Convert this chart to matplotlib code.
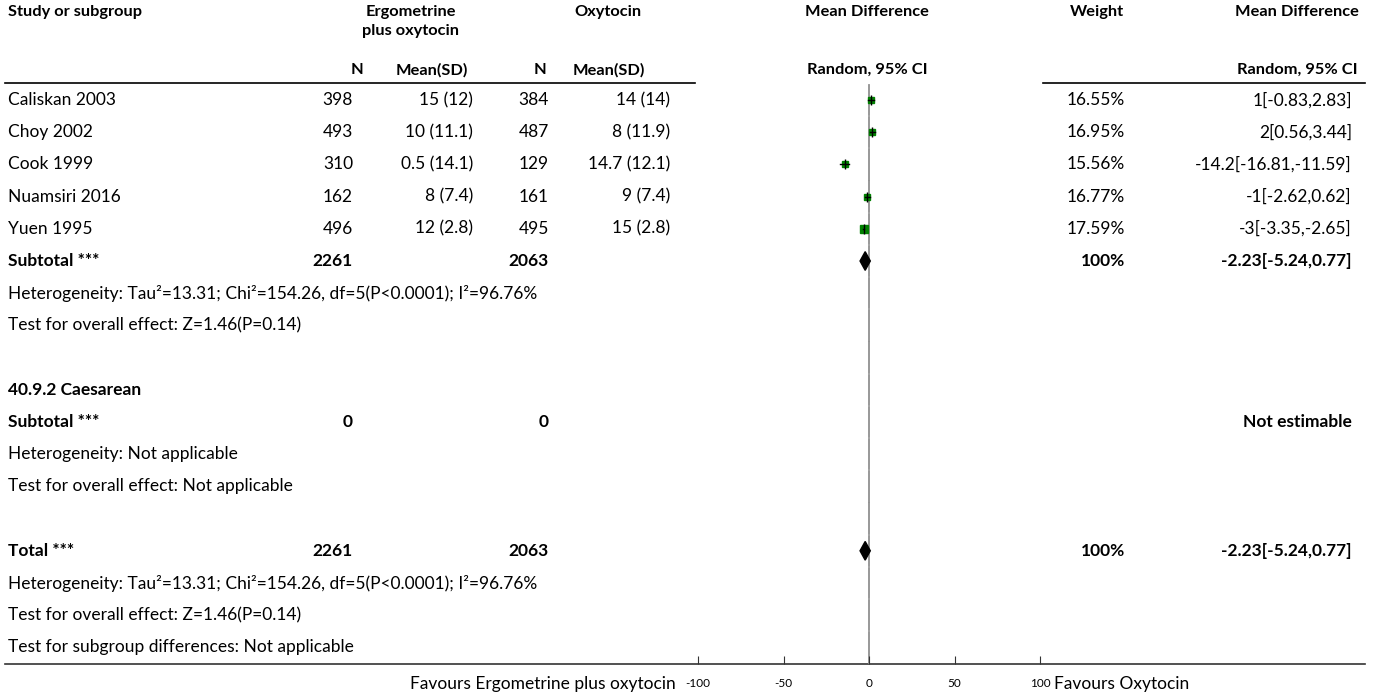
import numpy as np
import matplotlib
matplotlib.use('Agg')
import matplotlib.pyplot as plt

plt.rcParams['font.family'] = ['Lato', 'DejaVu Sans']

# study level data
Studies = ['Caliskan 2003', 'Choy 2002', 'Cook 1999', 'Nuamsiri 2016', 'Yuen 1995']
ErgoN = [398, 493, 310, 162, 496]
ErgoMean = [15, 10, 0.5, 8, 12]
ErgoSD = [12, 11.1, 14.1, 7.4, 2.8]
OxyN = [384, 487, 129, 161, 495]
OxyMean = [14, 8, 14.7, 9, 15]
OxySD = [14, 11.9, 12.1, 7.4, 2.8]
MD = [1, 2, -14.2, -1, -3]
MDLow = [-0.83, 0.56, -16.81, -2.62, -3.35]
MDHigh = [2.83, 3.44, -11.59, 0.62, -2.65]
Weights = [16.55, 16.95, 15.56, 16.77, 17.59]

# pooled result
PoolMD = -2.23
PoolLow = -5.24
PoolHigh = 0.77
TotalErgoN = 2261
TotalOxyN = 2063
HetText = 'Heterogeneity: Tau\u00b2=13.31; Chi\u00b2=154.26, df=5(P<0.0001); I\u00b2=96.76%'
EffectText = 'Test for overall effect: Z=1.46(P=0.14)'
XTicks = [-100, -50, 0, 50, 100]

W, H = 1375, 695
fig = plt.figure(figsize=(W / 100, H / 100), dpi=100)
ax = fig.add_axes([0, 0, 1, 1])
ax.set_xlim(0, W)
ax.set_ylim(H, 0)
ax.axis('off')

Y0, DY = 100, 32.2
def rowY(i):
    return Y0 + DY * i

FS = 12.5
def txt(x, i, s, ha='left', bold=False):
    ax.text(x, rowY(i), s, ha=ha, va='center', fontsize=FS,
            fontweight='bold' if bold else 'normal')

# header
hb = dict(fontsize=11.8, fontweight='bold', va='center')
ax.text(8, 12, 'Study or subgroup', ha='left', **hb)
ax.text(411, 12, 'Ergometrine', ha='center', **hb)
ax.text(411, 31, 'plus oxytocin', ha='center', **hb)
ax.text(608, 12, 'Oxytocin', ha='center', **hb)
ax.text(867, 12, 'Mean Difference', ha='center', **hb)
ax.text(1097, 12, 'Weight', ha='center', **hb)
ax.text(1297, 12, 'Mean Difference', ha='center', **hb)
ax.text(357, 70, 'N', ha='center', **hb)
ax.text(432, 70, 'Mean(SD)', ha='center', **hb)
ax.text(540, 70, 'N', ha='center', **hb)
ax.text(609, 70, 'Mean(SD)', ha='center', **hb)
ax.text(867, 70, 'Random, 95% CI', ha='center', **hb)
ax.text(1297, 70, 'Random, 95% CI', ha='center', **hb)

ax.plot([5, 695], [82.5, 82.5], color='black', lw=1.2)
ax.plot([1043, 1365], [82.5, 82.5], color='black', lw=1.2)
ax.plot([5, 1365], [664, 664], color='#333333', lw=1.2)

# study rows
for i, name in enumerate(Studies):
    txt(8, i, name)
    txt(353, i, str(ErgoN[i]), 'right')
    txt(473, i, f'{ErgoMean[i]:g} ({ErgoSD[i]:g})', 'right')
    txt(549, i, str(OxyN[i]), 'right')
    txt(670, i, f'{OxyMean[i]:g} ({OxySD[i]:g})', 'right')
    txt(1125, i, f'{Weights[i]:.2f}%', 'right')
    txt(1352, i, f'{MD[i]:g}[{MDLow[i]:g},{MDHigh[i]:g}]', 'right')

PoolStr = f'{PoolMD:g}[{PoolLow:g},{PoolHigh:g}]'
for r in (5, 14):
    txt(8, r, 'Subtotal ***' if r == 5 else 'Total ***', bold=True)
    txt(353, r, str(TotalErgoN), 'right', True)
    txt(549, r, str(TotalOxyN), 'right', True)
    txt(1125, r, '100%', 'right', True)
    txt(1352, r, PoolStr, 'right', True)
    txt(8, r + 1, HetText)
    txt(8, r + 2, EffectText)

txt(8, 9, '40.9.2 Caesarean', bold=True)
txt(8, 10, 'Subtotal ***', bold=True)
txt(353, 10, '0', 'right', True)
txt(549, 10, '0', 'right', True)
txt(1352, 10, 'Not estimable', 'right', True)
txt(8, 11, 'Heterogeneity: Not applicable')
txt(8, 12, 'Test for overall effect: Not applicable')
txt(8, 17, 'Test for subgroup differences: Not applicable')

ax.text(676, 684, 'Favours Ergometrine plus oxytocin', ha='right', va='center', fontsize=FS)
ax.text(1054, 684, 'Favours Oxytocin', ha='left', va='center', fontsize=FS)

# forest panel
x0, x1 = 698, 1040
yTop, yBot = 82.5, 664
fx = fig.add_axes([x0 / W, (H - yBot) / H, (x1 - x0) / W, (yBot - yTop) / H])
fx.set_xlim(-100, 100)
fx.set_ylim((yBot - Y0) / DY, (yTop - Y0) / DY)
fx.patch.set_alpha(0)
for s in fx.spines.values():
    s.set_visible(False)
fx.set_yticks([])
fx.set_xticks(XTicks)
fx.set_xticklabels([str(t) for t in XTicks], fontsize=8.5)
fx.tick_params(axis='x', direction='in', length=6, width=0.8, pad=10, color='#333333')

# zero line drawn per row
nrows = 18
for r in range(nrows):
    lo = max(r - 0.5 + 0.03, (yTop - Y0) / DY)
    hi = min(r + 0.5 - 0.03, (yBot - Y0) / DY)
    fx.plot([0, 0], [lo, hi], color='#909090', lw=1.3, zorder=1)

rows = np.arange(len(Studies))
for i in rows:
    fx.plot(MD[i], i, marker='s', color='green', ms=Weights[i] / 3.4, mec='green', zorder=3)
    fx.plot([MDLow[i], MDHigh[i]], [i, i], color='black', lw=1.0, zorder=4)
    fx.plot(MD[i], i, marker='|', color='black', ms=7, mew=1.0, zorder=4)

for r in (5, 14):
    fx.fill([PoolLow, PoolMD, PoolHigh, PoolMD], [r, r - 0.29, r, r + 0.29],
            color='black', zorder=3)

fig.savefig('out.png', dpi=100)
